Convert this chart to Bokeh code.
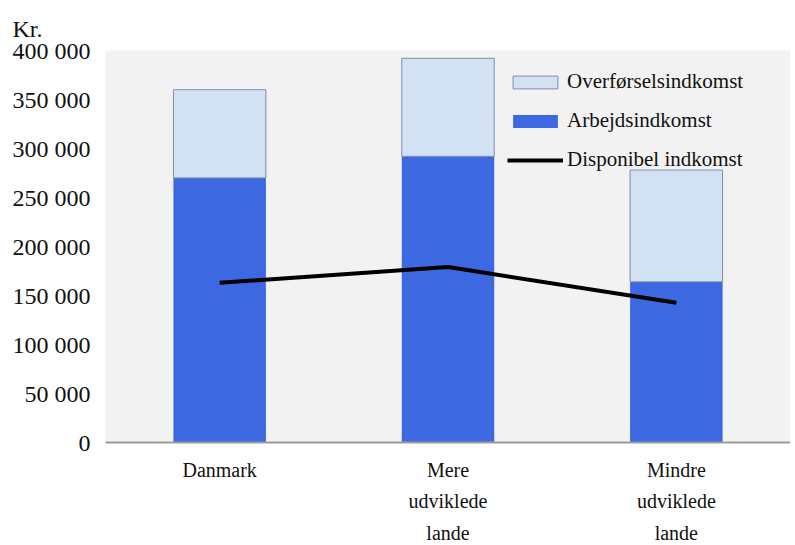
from bokeh.plotting import figure
from bokeh.models import FactorRange, Range1d, FixedTicker, Legend, LegendItem, Title, ColumnDataSource
from bokeh.embed import file_html
from bokeh.resources import INLINE

categories = ["Danmark", "Mere\nudviklede\nlande", "Mindre\nudviklede\nlande"]
arbejdsindkomst = [270000, 292000, 164000]
overfoerselsindkomst = [90000, 100000, 114000]
disponibel = [163000, 179000, 142500]
y_ticks = [0, 50000, 100000, 150000, 200000, 250000, 300000, 350000, 400000]
y_tick_labels = ["0", "50 000", "100 000", "150 000", "200 000", "250 000", "300 000", "350 000", "400 000"]

totals = [a + o for a, o in zip(arbejdsindkomst, overfoerselsindkomst)]
src = ColumnDataSource(dict(cat=categories, arb=arbejdsindkomst, tot=totals, disp=disponibel))

p = figure(output_backend="svg", toolbar_location=None,
           x_range=FactorRange(*categories, range_padding=0), y_range=Range1d(0, 400000),
           min_border_left=105, min_border_right=0, min_border_top=50, min_border_bottom=92)
p.frame_height = 392
p.frame_width = 685

p.background_fill_color = "#f2f2f2"
p.border_fill_color = "white"
p.outline_line_color = None
p.grid.visible = False

p.title = Title(text="Kr.", align="left", offset=-93, standoff=18, text_font="Liberation Serif",
                text_font_size="24px", text_font_style="normal", text_color="#111111")

r_arb = p.vbar(x="cat", top="arb", bottom=0, width=0.405, source=src,
               fill_color="#3c68e2", line_color=None)
r_ovf = p.vbar(x="cat", top="tot", bottom="arb", width=0.405, source=src,
               fill_color="#d2e2f4", line_color="#7f8ea6", line_width=1)
r_line = p.line(x="cat", y="disp", source=src, line_color="black", line_width=4)

p.yaxis.ticker = FixedTicker(ticks=y_ticks)
p.yaxis.major_label_overrides = {t: l for t, l in zip(y_ticks, y_tick_labels)}
p.yaxis.axis_line_color = None
p.yaxis.major_tick_line_color = None
p.yaxis.minor_tick_line_color = None
p.yaxis.major_label_text_font = "Liberation Serif"
p.yaxis.major_label_text_font_size = "24px"
p.yaxis.major_label_text_color = "#111111"
p.yaxis.major_label_standoff = 9

p.xaxis.axis_line_color = "#9a9a9a"
p.xaxis.axis_line_width = 2
p.xaxis.major_tick_line_color = None
p.xaxis.minor_tick_line_color = None
p.xaxis.major_label_text_font = "Liberation Serif"
p.xaxis.major_label_text_font_size = "20px"
p.xaxis.major_label_text_color = "#111111"
p.xaxis.major_label_text_line_height = 1.45
p.xaxis.major_label_standoff = 10

legend = Legend(items=[
    LegendItem(label="Overførselsindkomst", renderers=[r_ovf]),
    LegendItem(label="Arbejdsindkomst", renderers=[r_arb]),
    LegendItem(label="Disponibel indkomst", renderers=[r_line]),
], location=(402, 270))
legend.background_fill_alpha = 0
legend.border_line_color = None
legend.label_text_font = "Liberation Serif"
legend.label_text_font_size = "21px"
legend.label_text_color = "#111111"
legend.glyph_width = 56
legend.glyph_height = 16
legend.label_height = 20
legend.spacing = 14
legend.padding = 0
legend.margin = 0
legend.label_standoff = 4
p.add_layout(legend, "center")

open("out.html", "w").write(file_html(p, INLINE))
